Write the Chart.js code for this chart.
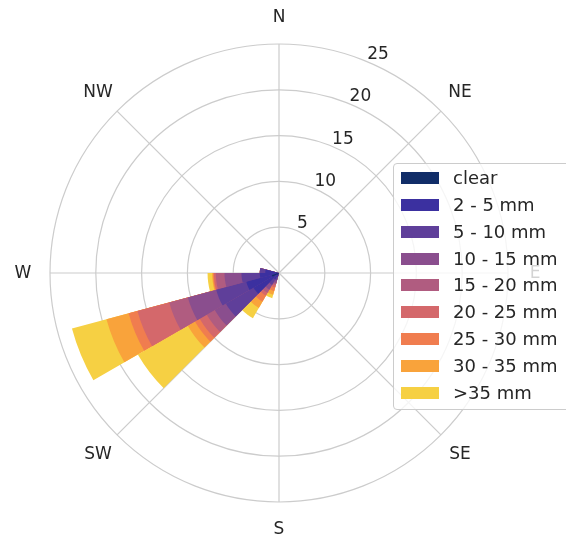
<!DOCTYPE html>
<html>
<head>
<meta charset="utf-8">
<script src="https://cdn.jsdelivr.net/npm/chart.js@4.4.1/dist/chart.umd.min.js"></script>
<style>
  html, body { margin: 0; padding: 0; background: #ffffff; overflow: hidden; }
  #wrap { position: relative; width: 566px; height: 538px; overflow: hidden; }
  #c { position: absolute; left: 0; top: 0; }
  #legend { position: absolute; left: 393px; top: 163px; width: 190px; height: 247px;
            box-sizing: border-box; border: 1px solid #cccccc; border-radius: 4px;
            background: rgba(255,255,255,0.8); }
  .sw { position: absolute; left: 7px; width: 38px; height: 12px; }
  .tx { position: absolute; left: 59px; height: 22px; line-height: 22px; white-space: nowrap;
        font-family: "DejaVu Sans", sans-serif; font-size: 18px; color: #262626; }
</style>
</head>
<body>
<div id="wrap">
  <canvas id="c" width="566" height="538"></canvas>
  <div id="legend"></div>
</div>
<script>
// ---- data ----
// 24 direction sectors of 15 degrees, starting at North, clockwise
const directions = ['0°','15°','30°','45°','60°','75°','90°','105°','120°','135°','150°','165°',
                    '180°','195°','210°','225°','240°','255°','270°','285°','300°','315°','330°','345°'];
const categories = ['clear','2 - 5 mm','5 - 10 mm','10 - 15 mm','15 - 20 mm','20 - 25 mm','25 - 30 mm','30 - 35 mm','>35 mm'];
const colors = ['#112d68','#3b30a0','#5f3f9a','#8a4e8e','#b05c80','#d4686b','#f07d4f','#f9a33b','#f6d043'];

const clear  = [0,0,0,0,0,0,0,0,0,0,0,0,0,0.05,0.1,0.3,0.8,0.3,0.1,0,0,0,0,0];
const mm2_5  = [0,0,0,0,0,0,0,0,0,0,0,0,0,0.4,0.7,2.9,2.9,1.8,1.4,0,0,0,0,0];
const mm5_10 = [0,0,0,0,0,0,0,0,0,0,0,0,0,0.4,0.7,3.5,3.4,2.0,0.6,0,0,0,0,0];
const mm10_15= [0,0,0,0,0,0,0,0,0,0,0,0,0,0.3,0.6,1.4,3.2,1.85,0,0,0,0,0,0];
const mm15_20= [0,0,0,0,0,0,0,0,0,0,0,0,0,0.2,0.4,1.0,2.1,0.95,0,0,0,0,0,0];
const mm20_25= [0,0,0,0,0,0,0,0,0,0,0,0,0,0.3,0.35,0.9,3.6,0.2,0,0,0,0,0,0];
const mm25_30= [0,0,0,0,0,0,0,0,0,0,0,0,0,0.4,0.75,0.6,1.0,0.1,0,0,0,0,0,0];
const mm30_35= [0,0,0,0,0,0,0,0,0,0,0,0,0,0.4,0.8,0.9,2.5,0.1,0,0,0,0,0,0];
const mm35up = [0,0,0,0,0,0,0,0,0,0,0,0,0,0.4,1.3,6.3,3.9,0.5,0,0,0,0,0,0];

const tickValues = [5,10,15,20,25];
const compassLabels = ['N','NE','E','SE','S','SW','W','NW'];
const compassAngles = [0,45,90,135,180,225,270,315];

// ---- build stacked (cumulative) datasets; dataset 0 is drawn last (on top) ----
const series = [clear, mm2_5, mm5_10, mm10_15, mm15_20, mm20_25, mm25_30, mm30_35, mm35up];
const running = directions.map(() => 0);
const datasets = series.map((vals, k) => {
  const cum = vals.map((v, i) => (running[i] += v));
  return { label: categories[k], data: cum.slice(), backgroundColor: colors[k], borderWidth: 0 };
});

const labelsPlugin = {
  id: 'roseLabels',
  afterDatasetsDraw(chart) {
    const s = chart.scales.r;
    const ctx = chart.ctx;
    ctx.save();
    ctx.fillStyle = '#262626';
    ctx.font = '17px "DejaVu Sans", sans-serif';
    ctx.textAlign = 'center';
    ctx.textBaseline = 'middle';
    const rOut = s.getDistanceFromCenterForValue(s.max) + 27;
    compassLabels.forEach((t, i) => {
      const a = compassAngles[i] * Math.PI / 180;
      ctx.fillText(t, s.xCenter + rOut * Math.sin(a), s.yCenter - rOut * Math.cos(a) + 1);
    });
    ctx.textAlign = 'left';
    ctx.textBaseline = 'alphabetic';
    const ta = 22.5 * Math.PI / 180;
    tickValues.forEach(v => {
      const r = s.getDistanceFromCenterForValue(v);
      ctx.fillText(String(v), s.xCenter + r * Math.sin(ta) + 0.5, s.yCenter - r * Math.cos(ta) - 2.5);
    });
    ctx.restore();
  }
};

new Chart(document.getElementById('c'), {
  type: 'polarArea',
  data: { labels: directions, datasets: datasets },
  options: {
    responsive: false,
    animation: false,
    events: [],
    devicePixelRatio: 1,
    layout: { padding: { left: 50, top: 44, right: 58, bottom: 36 } },
    plugins: { legend: { display: false }, tooltip: { enabled: false } },
    scales: {
      r: {
        min: 0, max: 25, startAngle: 0,
        ticks: { stepSize: 5, display: false },
        grid: { circular: true, color: '#cccccc', lineWidth: 1.2 },
        angleLines: { display: true, color: '#cccccc',
                      lineWidth: (ctx) => (ctx.index % 3 === 0 ? 1.2 : 0) },
        pointLabels: { display: false }
      }
    }
  },
  plugins: [labelsPlugin]
});

// ---- legend (HTML) ----
const legend = document.getElementById('legend');
categories.forEach((name, k) => {
  const cy = 177.8 + 26.9 * k - 163 - 1;
  const sw = document.createElement('div');
  sw.className = 'sw';
  sw.style.top = (cy - 6) + 'px';
  sw.style.background = colors[k];
  legend.appendChild(sw);
  const tx = document.createElement('div');
  tx.className = 'tx';
  tx.style.top = (cy - 11) + 'px';
  tx.textContent = name;
  legend.appendChild(tx);
});
</script>
</body>
</html>
